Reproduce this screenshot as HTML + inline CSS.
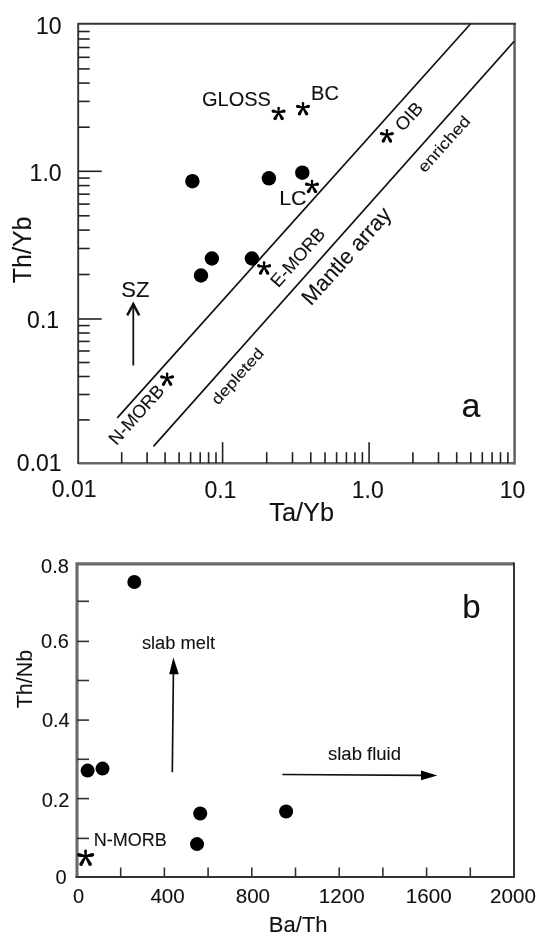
<!DOCTYPE html>
<html><head><meta charset="utf-8"><style>
html,body{margin:0;padding:0;background:#fff;width:550px;height:947px;overflow:hidden}
svg{display:block;filter:blur(0.35px)}
text{font-family:"Liberation Sans",Arial,sans-serif;fill:#111;stroke:#111;stroke-width:0.1px}
</style></head><body>
<svg width="550" height="947" viewBox="0 0 550 947">
<rect width="550" height="947" fill="#fff"/>
<path d="M514.6 463.2H78.2" stroke="#666" stroke-width="2.6" fill="none"/>
<path d="M514.6 23.7V464.5" stroke="#666" stroke-width="2.6" fill="none"/>
<path d="M78.2 464.1V23.7H515.9" stroke="#333" stroke-width="1.9" fill="none"/>
<line x1="78.2" y1="171.3" x2="101.7" y2="171.3" stroke="#222" stroke-width="1.6"/>
<line x1="78.2" y1="127.2" x2="89.7" y2="127.2" stroke="#222" stroke-width="1.6"/>
<line x1="78.2" y1="101.4" x2="89.7" y2="101.4" stroke="#222" stroke-width="1.6"/>
<line x1="78.2" y1="83.1" x2="89.7" y2="83.1" stroke="#222" stroke-width="1.6"/>
<line x1="78.2" y1="68.9" x2="89.7" y2="68.9" stroke="#222" stroke-width="1.6"/>
<line x1="78.2" y1="57.3" x2="89.7" y2="57.3" stroke="#222" stroke-width="1.6"/>
<line x1="78.2" y1="47.5" x2="89.7" y2="47.5" stroke="#222" stroke-width="1.6"/>
<line x1="78.2" y1="39.0" x2="89.7" y2="39.0" stroke="#222" stroke-width="1.6"/>
<line x1="78.2" y1="31.5" x2="89.7" y2="31.5" stroke="#222" stroke-width="1.6"/>
<line x1="78.2" y1="319.0" x2="101.7" y2="319.0" stroke="#222" stroke-width="1.6"/>
<line x1="78.2" y1="274.5" x2="89.7" y2="274.5" stroke="#222" stroke-width="1.6"/>
<line x1="78.2" y1="248.5" x2="89.7" y2="248.5" stroke="#222" stroke-width="1.6"/>
<line x1="78.2" y1="230.1" x2="89.7" y2="230.1" stroke="#222" stroke-width="1.6"/>
<line x1="78.2" y1="215.8" x2="89.7" y2="215.8" stroke="#222" stroke-width="1.6"/>
<line x1="78.2" y1="204.1" x2="89.7" y2="204.1" stroke="#222" stroke-width="1.6"/>
<line x1="78.2" y1="194.2" x2="89.7" y2="194.2" stroke="#222" stroke-width="1.6"/>
<line x1="78.2" y1="185.6" x2="89.7" y2="185.6" stroke="#222" stroke-width="1.6"/>
<line x1="78.2" y1="178.1" x2="89.7" y2="178.1" stroke="#222" stroke-width="1.6"/>
<line x1="78.2" y1="419.9" x2="89.7" y2="419.9" stroke="#222" stroke-width="1.6"/>
<line x1="78.2" y1="394.5" x2="89.7" y2="394.5" stroke="#222" stroke-width="1.6"/>
<line x1="78.2" y1="376.5" x2="89.7" y2="376.5" stroke="#222" stroke-width="1.6"/>
<line x1="78.2" y1="362.5" x2="89.7" y2="362.5" stroke="#222" stroke-width="1.6"/>
<line x1="78.2" y1="351.0" x2="89.7" y2="351.0" stroke="#222" stroke-width="1.6"/>
<line x1="78.2" y1="341.4" x2="89.7" y2="341.4" stroke="#222" stroke-width="1.6"/>
<line x1="78.2" y1="333.0" x2="89.7" y2="333.0" stroke="#222" stroke-width="1.6"/>
<line x1="78.2" y1="325.6" x2="89.7" y2="325.6" stroke="#222" stroke-width="1.6"/>
<line x1="121.7" y1="463.2" x2="121.7" y2="452.2" stroke="#222" stroke-width="1.6"/>
<line x1="147.1" y1="463.2" x2="147.1" y2="452.2" stroke="#222" stroke-width="1.6"/>
<line x1="165.1" y1="463.2" x2="165.1" y2="452.2" stroke="#222" stroke-width="1.6"/>
<line x1="179.1" y1="463.2" x2="179.1" y2="452.2" stroke="#222" stroke-width="1.6"/>
<line x1="190.6" y1="463.2" x2="190.6" y2="452.2" stroke="#222" stroke-width="1.6"/>
<line x1="200.2" y1="463.2" x2="200.2" y2="452.2" stroke="#222" stroke-width="1.6"/>
<line x1="208.6" y1="463.2" x2="208.6" y2="452.2" stroke="#222" stroke-width="1.6"/>
<line x1="216.0" y1="463.2" x2="216.0" y2="452.2" stroke="#222" stroke-width="1.6"/>
<line x1="222.6" y1="463.2" x2="222.6" y2="442.2" stroke="#222" stroke-width="1.6"/>
<line x1="266.7" y1="463.2" x2="266.7" y2="452.2" stroke="#222" stroke-width="1.6"/>
<line x1="292.5" y1="463.2" x2="292.5" y2="452.2" stroke="#222" stroke-width="1.6"/>
<line x1="310.8" y1="463.2" x2="310.8" y2="452.2" stroke="#222" stroke-width="1.6"/>
<line x1="325.0" y1="463.2" x2="325.0" y2="452.2" stroke="#222" stroke-width="1.6"/>
<line x1="336.6" y1="463.2" x2="336.6" y2="452.2" stroke="#222" stroke-width="1.6"/>
<line x1="346.4" y1="463.2" x2="346.4" y2="452.2" stroke="#222" stroke-width="1.6"/>
<line x1="354.9" y1="463.2" x2="354.9" y2="452.2" stroke="#222" stroke-width="1.6"/>
<line x1="362.4" y1="463.2" x2="362.4" y2="452.2" stroke="#222" stroke-width="1.6"/>
<line x1="369.1" y1="463.2" x2="369.1" y2="442.2" stroke="#222" stroke-width="1.6"/>
<line x1="412.9" y1="463.2" x2="412.9" y2="452.2" stroke="#222" stroke-width="1.6"/>
<line x1="438.5" y1="463.2" x2="438.5" y2="452.2" stroke="#222" stroke-width="1.6"/>
<line x1="456.7" y1="463.2" x2="456.7" y2="452.2" stroke="#222" stroke-width="1.6"/>
<line x1="470.8" y1="463.2" x2="470.8" y2="452.2" stroke="#222" stroke-width="1.6"/>
<line x1="482.3" y1="463.2" x2="482.3" y2="452.2" stroke="#222" stroke-width="1.6"/>
<line x1="492.1" y1="463.2" x2="492.1" y2="452.2" stroke="#222" stroke-width="1.6"/>
<line x1="500.5" y1="463.2" x2="500.5" y2="452.2" stroke="#222" stroke-width="1.6"/>
<line x1="507.9" y1="463.2" x2="507.9" y2="452.2" stroke="#222" stroke-width="1.6"/>
<line x1="117.3" y1="417.9" x2="470.2" y2="24.2" stroke="#111" stroke-width="1.7"/>
<line x1="153.5" y1="446.4" x2="514.2" y2="41.3" stroke="#111" stroke-width="1.7"/>
<circle cx="192.4" cy="181.2" r="7.2" fill="#000"/>
<circle cx="268.9" cy="178.3" r="7.2" fill="#000"/>
<circle cx="302.3" cy="172.7" r="7.2" fill="#000"/>
<circle cx="211.9" cy="258.5" r="7.2" fill="#000"/>
<circle cx="201" cy="275.5" r="7.2" fill="#000"/>
<circle cx="251.9" cy="258.5" r="7.2" fill="#000"/>
<path d="M279.40 112.30L279.90 108.00L277.30 108.00L277.80 112.30ZM279.90 108.00A1.3 1.3 0 1 0 277.30 108.00A1.3 1.3 0 1 0 279.90 108.00ZM278.77 113.08L284.37 112.76L283.69 109.53L278.43 111.52ZM285.68 111.15A1.65 1.65 0 1 0 282.38 111.15A1.65 1.65 0 1 0 285.68 111.15ZM278.77 111.52L273.51 109.53L272.83 112.76L278.43 113.08ZM274.82 111.15A1.65 1.65 0 1 0 271.52 111.15A1.65 1.65 0 1 0 274.82 111.15ZM277.91 112.70L280.73 119.39L283.67 117.69L279.29 111.90ZM283.90 118.54A1.7 1.7 0 1 0 280.50 118.54A1.7 1.7 0 1 0 283.90 118.54ZM277.91 111.90L273.53 117.69L276.47 119.39L279.29 112.70ZM276.70 118.54A1.7 1.7 0 1 0 273.30 118.54A1.7 1.7 0 1 0 276.70 118.54Z" fill="#000" fill-rule="nonzero"/>
<path d="M303.80 107.50L304.30 103.20L301.70 103.20L302.20 107.50ZM304.30 103.20A1.3 1.3 0 1 0 301.70 103.20A1.3 1.3 0 1 0 304.30 103.20ZM303.17 108.28L308.77 107.96L308.09 104.73L302.83 106.72ZM310.08 106.35A1.65 1.65 0 1 0 306.78 106.35A1.65 1.65 0 1 0 310.08 106.35ZM303.17 106.72L297.91 104.73L297.23 107.96L302.83 108.28ZM299.22 106.35A1.65 1.65 0 1 0 295.92 106.35A1.65 1.65 0 1 0 299.22 106.35ZM302.31 107.90L305.13 114.59L308.07 112.89L303.69 107.10ZM308.30 113.74A1.7 1.7 0 1 0 304.90 113.74A1.7 1.7 0 1 0 308.30 113.74ZM302.31 107.10L297.93 112.89L300.87 114.59L303.69 107.90ZM301.10 113.74A1.7 1.7 0 1 0 297.70 113.74A1.7 1.7 0 1 0 301.10 113.74Z" fill="#000" fill-rule="nonzero"/>
<path d="M387.70 134.70L388.20 130.40L385.60 130.40L386.10 134.70ZM388.20 130.40A1.3 1.3 0 1 0 385.60 130.40A1.3 1.3 0 1 0 388.20 130.40ZM387.07 135.48L392.67 135.16L391.99 131.93L386.73 133.92ZM393.98 133.55A1.65 1.65 0 1 0 390.68 133.55A1.65 1.65 0 1 0 393.98 133.55ZM387.07 133.92L381.81 131.93L381.13 135.16L386.73 135.48ZM383.12 133.55A1.65 1.65 0 1 0 379.82 133.55A1.65 1.65 0 1 0 383.12 133.55ZM386.21 135.10L389.03 141.79L391.97 140.09L387.59 134.30ZM392.20 140.94A1.7 1.7 0 1 0 388.80 140.94A1.7 1.7 0 1 0 392.20 140.94ZM386.21 134.30L381.83 140.09L384.77 141.79L387.59 135.10ZM385.00 140.94A1.7 1.7 0 1 0 381.60 140.94A1.7 1.7 0 1 0 385.00 140.94Z" fill="#000" fill-rule="nonzero"/>
<path d="M312.80 185.30L313.30 181.00L310.70 181.00L311.20 185.30ZM313.30 181.00A1.3 1.3 0 1 0 310.70 181.00A1.3 1.3 0 1 0 313.30 181.00ZM312.17 186.08L317.77 185.76L317.09 182.53L311.83 184.52ZM319.08 184.15A1.65 1.65 0 1 0 315.78 184.15A1.65 1.65 0 1 0 319.08 184.15ZM312.17 184.52L306.91 182.53L306.23 185.76L311.83 186.08ZM308.22 184.15A1.65 1.65 0 1 0 304.92 184.15A1.65 1.65 0 1 0 308.22 184.15ZM311.31 185.70L314.13 192.39L317.07 190.69L312.69 184.90ZM317.30 191.54A1.7 1.7 0 1 0 313.90 191.54A1.7 1.7 0 1 0 317.30 191.54ZM311.31 184.90L306.93 190.69L309.87 192.39L312.69 185.70ZM310.10 191.54A1.7 1.7 0 1 0 306.70 191.54A1.7 1.7 0 1 0 310.10 191.54Z" fill="#000" fill-rule="nonzero"/>
<path d="M264.90 266.90L265.40 262.60L262.80 262.60L263.30 266.90ZM265.40 262.60A1.3 1.3 0 1 0 262.80 262.60A1.3 1.3 0 1 0 265.40 262.60ZM264.27 267.68L269.87 267.36L269.19 264.13L263.93 266.12ZM271.18 265.75A1.65 1.65 0 1 0 267.88 265.75A1.65 1.65 0 1 0 271.18 265.75ZM264.27 266.12L259.01 264.13L258.33 267.36L263.93 267.68ZM260.32 265.75A1.65 1.65 0 1 0 257.02 265.75A1.65 1.65 0 1 0 260.32 265.75ZM263.41 267.30L266.23 273.99L269.17 272.29L264.79 266.50ZM269.40 273.14A1.7 1.7 0 1 0 266.00 273.14A1.7 1.7 0 1 0 269.40 273.14ZM263.41 266.50L259.03 272.29L261.97 273.99L264.79 267.30ZM262.20 273.14A1.7 1.7 0 1 0 258.80 273.14A1.7 1.7 0 1 0 262.20 273.14Z" fill="#000" fill-rule="nonzero"/>
<path d="M167.90 378.00L168.40 373.70L165.80 373.70L166.30 378.00ZM168.40 373.70A1.3 1.3 0 1 0 165.80 373.70A1.3 1.3 0 1 0 168.40 373.70ZM167.27 378.78L172.87 378.46L172.19 375.23L166.93 377.22ZM174.18 376.85A1.65 1.65 0 1 0 170.88 376.85A1.65 1.65 0 1 0 174.18 376.85ZM167.27 377.22L162.01 375.23L161.33 378.46L166.93 378.78ZM163.32 376.85A1.65 1.65 0 1 0 160.02 376.85A1.65 1.65 0 1 0 163.32 376.85ZM166.41 378.40L169.23 385.09L172.17 383.39L167.79 377.60ZM172.40 384.24A1.7 1.7 0 1 0 169.00 384.24A1.7 1.7 0 1 0 172.40 384.24ZM166.41 377.60L162.03 383.39L164.97 385.09L167.79 378.40ZM165.20 384.24A1.7 1.7 0 1 0 161.80 384.24A1.7 1.7 0 1 0 165.20 384.24Z" fill="#000" fill-rule="nonzero"/>
<text transform="translate(61.6,33.5)" font-size="23" text-anchor="end">10</text>
<text transform="translate(61.6,180.5)" font-size="23" text-anchor="end">1.0</text>
<text transform="translate(59.1,328.0)" font-size="23" text-anchor="end">0.1</text>
<text transform="translate(61.6,470.5)" font-size="23" text-anchor="end">0.01</text>
<text transform="translate(74.2,497.0)" font-size="23" text-anchor="middle">0.01</text>
<text transform="translate(220.4,498.3)" font-size="23" text-anchor="middle">0.1</text>
<text transform="translate(367.8,497.6)" font-size="23" text-anchor="middle">1.0</text>
<text transform="translate(512.6,497.7)" font-size="23" text-anchor="middle">10</text>
<text transform="translate(301.7,520.7)" font-size="25.3" text-anchor="middle">Ta/Yb</text>
<text transform="translate(30.8,249.9) rotate(-90)" font-size="25" text-anchor="middle">Th/Yb</text>
<text transform="translate(236.5,106)" font-size="20" text-anchor="middle">GLOSS</text>
<text transform="translate(325,100.4)" font-size="20" text-anchor="middle">BC</text>
<text transform="translate(292.9,205.3) scale(1.07,1)" font-size="20" text-anchor="middle">LC</text>
<text transform="translate(135.3,297)" font-size="22" text-anchor="middle">SZ</text>
<text transform="translate(471,416.6)" font-size="34" text-anchor="middle">a</text>
<text transform="translate(408.7,116.2) rotate(-48.2)" font-size="18.3" text-anchor="middle" dominant-baseline="central">OIB</text>
<text transform="translate(297.7,257.3) rotate(-48.2)" font-size="18" text-anchor="middle" dominant-baseline="central">E-MORB</text>
<text transform="translate(136.4,414.7) rotate(-48.2)" font-size="18" text-anchor="middle" dominant-baseline="central">N-MORB</text>
<text transform="translate(346.2,255.8) rotate(-48.2)" font-size="22" text-anchor="middle" dominant-baseline="central">Mantle array</text>
<text transform="translate(237.7,376.4) rotate(-48.2) scale(1.2,1)" font-size="15.2" text-anchor="middle" dominant-baseline="central">depleted</text>
<text transform="translate(444.1,144.2) rotate(-48.2) scale(1.15,1)" font-size="15.8" text-anchor="middle" dominant-baseline="central">enriched</text>
<line x1="133.3" y1="365.5" x2="133.3" y2="303.5" stroke="#111" stroke-width="1.8"/>
<path d="M127.2 315.3L133.3 304.2L139.2 315.3" stroke="#111" stroke-width="2.5" fill="none" stroke-linejoin="miter"/>
<path d="M77.0 877.0V563.9H514.0" stroke="#6a6a6a" stroke-width="3.1" fill="none"/>
<path d="M75.5 877.0H514.0V562.4" stroke="#333" stroke-width="2" fill="none"/>
<line x1="77.0" y1="838.4" x2="89.0" y2="838.4" stroke="#333" stroke-width="1.6"/>
<line x1="77.0" y1="798.6" x2="89.0" y2="798.6" stroke="#333" stroke-width="1.6"/>
<line x1="77.0" y1="759.3" x2="89.0" y2="759.3" stroke="#333" stroke-width="1.6"/>
<line x1="77.0" y1="720.1" x2="89.0" y2="720.1" stroke="#333" stroke-width="1.6"/>
<line x1="77.0" y1="680.5" x2="89.0" y2="680.5" stroke="#333" stroke-width="1.6"/>
<line x1="77.0" y1="641.4" x2="89.0" y2="641.4" stroke="#333" stroke-width="1.6"/>
<line x1="77.0" y1="601.3" x2="89.0" y2="601.3" stroke="#333" stroke-width="1.6"/>
<line x1="120.7" y1="877.0" x2="120.7" y2="867.5" stroke="#333" stroke-width="1.6"/>
<line x1="164.4" y1="877.0" x2="164.4" y2="867.5" stroke="#333" stroke-width="1.6"/>
<line x1="208.1" y1="877.0" x2="208.1" y2="867.5" stroke="#333" stroke-width="1.6"/>
<line x1="251.8" y1="877.0" x2="251.8" y2="867.5" stroke="#333" stroke-width="1.6"/>
<line x1="295.5" y1="877.0" x2="295.5" y2="867.5" stroke="#333" stroke-width="1.6"/>
<line x1="339.2" y1="877.0" x2="339.2" y2="867.5" stroke="#333" stroke-width="1.6"/>
<line x1="382.9" y1="877.0" x2="382.9" y2="867.5" stroke="#333" stroke-width="1.6"/>
<line x1="426.6" y1="877.0" x2="426.6" y2="867.5" stroke="#333" stroke-width="1.6"/>
<line x1="470.3" y1="877.0" x2="470.3" y2="867.5" stroke="#333" stroke-width="1.6"/>
<circle cx="134.3" cy="582" r="7.0" fill="#000"/>
<circle cx="87.6" cy="770.6" r="7.0" fill="#000"/>
<circle cx="102.5" cy="768.6" r="7.0" fill="#000"/>
<circle cx="200.2" cy="813.5" r="7.0" fill="#000"/>
<circle cx="197" cy="844.1" r="7.0" fill="#000"/>
<circle cx="286.1" cy="811.5" r="7.0" fill="#000"/>
<path d="M86.55 856.30L87.03 850.90L84.17 850.90L84.65 856.30ZM87.03 850.90A1.4300000000000002 1.4300000000000002 0 1 0 84.17 850.90A1.4300000000000002 1.4300000000000002 0 1 0 87.03 850.90ZM85.80 857.23L92.79 856.63L92.04 853.08L85.40 855.37ZM94.23 854.85A1.815 1.815 0 1 0 90.60 854.85A1.815 1.815 0 1 0 94.23 854.85ZM85.80 855.37L79.16 853.08L78.41 856.63L85.40 857.23ZM80.60 854.85A1.815 1.815 0 1 0 76.97 854.85A1.815 1.815 0 1 0 80.60 854.85ZM84.78 856.77L88.47 865.02L91.71 863.15L86.42 855.82ZM91.96 864.08A1.87 1.87 0 1 0 88.22 864.08A1.87 1.87 0 1 0 91.96 864.08ZM84.78 855.82L79.49 863.15L82.73 865.02L86.42 856.77ZM82.98 864.08A1.87 1.87 0 1 0 79.24 864.08A1.87 1.87 0 1 0 82.98 864.08Z" fill="#000" fill-rule="nonzero"/>
<text transform="translate(68.9,572.9)" font-size="20" text-anchor="end">0.8</text>
<text transform="translate(68.9,648.3)" font-size="20" text-anchor="end">0.6</text>
<text transform="translate(69.7,727.1)" font-size="20" text-anchor="end">0.4</text>
<text transform="translate(69.5,807.1)" font-size="20" text-anchor="end">0.2</text>
<text transform="translate(66.5,883.7)" font-size="20" text-anchor="end">0</text>
<text transform="translate(78.6,902.8)" font-size="20" text-anchor="middle">0</text>
<text transform="translate(167.6,902.8)" font-size="20.6" text-anchor="middle">400</text>
<text transform="translate(252.9,902.8)" font-size="20.6" text-anchor="middle">800</text>
<text transform="translate(341.7,902.8)" font-size="20.6" text-anchor="middle">1200</text>
<text transform="translate(428.7,902.8)" font-size="20.6" text-anchor="middle">1600</text>
<text transform="translate(513,902.8)" font-size="20.6" text-anchor="middle">2000</text>
<text transform="translate(298.2,932.2)" font-size="22" text-anchor="middle">Ba/Th</text>
<text transform="translate(32.4,679) rotate(-90)" font-size="21.5" text-anchor="middle">Th/Nb</text>
<text transform="translate(178.5,649.0) scale(1.04,1)" font-size="17.6" text-anchor="middle">slab melt</text>
<text transform="translate(364.5,759.8)" font-size="18.5" text-anchor="middle">slab fluid</text>
<text transform="translate(130.3,846.1)" font-size="18" text-anchor="middle">N-MORB</text>
<text transform="translate(471.4,617.8)" font-size="33" text-anchor="middle">b</text>
<line x1="172.3" y1="772.3" x2="173.4" y2="672" stroke="#111" stroke-width="1.7"/>
<path d="M173.4 657.4L178.8 674.2L169.2 674.2Z" fill="#000"/>
<line x1="282.3" y1="774.5" x2="423" y2="775.3" stroke="#111" stroke-width="1.7"/>
<path d="M437.3 775.4L421 770.6L421 780.2Z" fill="#000"/>
</svg>
</body></html>
